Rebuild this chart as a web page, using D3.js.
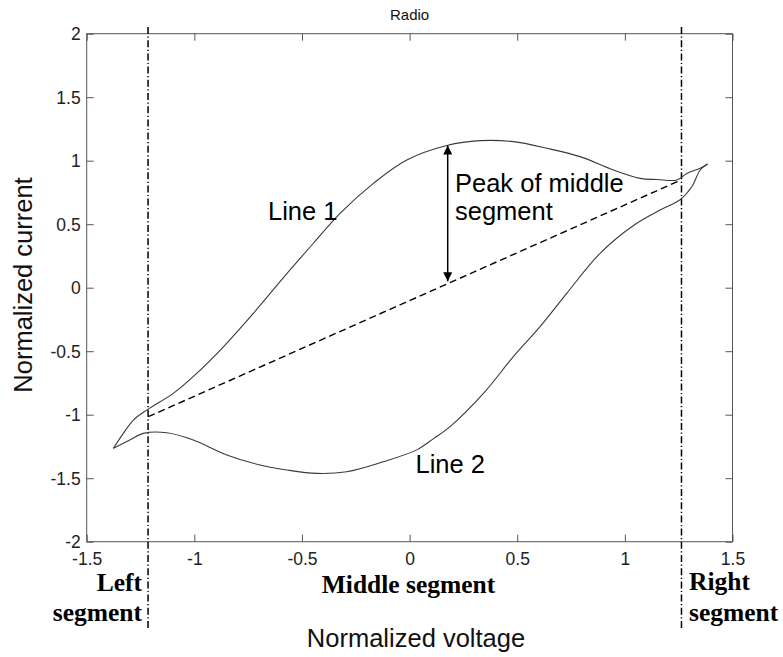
<!DOCTYPE html>
<html>
<head>
<meta charset="utf-8">
<script src="https://cdn.jsdelivr.net/npm/d3@7"></script>
<style>
  html, body { margin: 0; padding: 0; background: #fff; }
  svg { display: block; }
</style>
</head>
<body>
<svg id="chart" width="783" height="657"></svg>
<script>
// Upper branch (Line 1), traced from the left tip to the right tip
const line1Voltage = [-1.376, -1.33, -1.283, -1.218, -1.098, -0.989, -0.865, -0.726, -0.586, -0.447, -0.323, -0.168, -0.013, 0.173, 0.328, 0.482, 0.638, 0.792, 0.947, 1.071, 1.15, 1.242, 1.288, 1.35, 1.384];
const line1Current = [-1.265, -1.147, -1.042, -0.96, -0.832, -0.674, -0.465, -0.202, 0.08, 0.35, 0.586, 0.822, 1.006, 1.12, 1.158, 1.150, 1.098, 1.032, 0.927, 0.861, 0.852, 0.848, 0.90, 0.940, 0.974];

// Lower branch (Line 2), traced from the right tip back to the left tip
const line2Voltage = [1.384, 1.35, 1.311, 1.257, 1.164, 1.04, 0.885, 0.730, 0.606, 0.482, 0.343, 0.188, 0.11, 0.033, -0.122, -0.292, -0.431, -0.571, -0.695, -0.849, -1.005, -1.128, -1.237, -1.30, -1.376];
const line2Current = [0.974, 0.927, 0.795, 0.694, 0.612, 0.49, 0.271, -0.044, -0.307, -0.543, -0.832, -1.094, -1.19, -1.277, -1.370, -1.449, -1.462, -1.435, -1.396, -1.317, -1.199, -1.142, -1.147, -1.20, -1.265];

// Chord joining the two segment boundaries
const chordVoltage = [-1.214, 1.25];
const chordCurrent = [-1.016, 0.84];

// Segment boundaries (voltage)
const segmentBounds = [-1.215, 1.263];

// Peak-of-middle-segment arrow: voltage, top and bottom current
const peakVoltage = 0.177;
const peakTop = 1.12;
const peakBottom = 0.05;

const xTicks = [-1.5, -1, -0.5, 0, 0.5, 1, 1.5];
const yTicks = [-2, -1.5, -1, -0.5, 0, 0.5, 1, 1.5, 2];

const W = 783, H = 657;
const margin = { top: 33.7, right: 50.5, bottom: 115.3, left: 86.7 };
const pw = W - margin.left - margin.right;
const ph = H - margin.top - margin.bottom;

const svg = d3.select("#chart");
const sans = "'Liberation Sans', Arial, sans-serif";
const serif = "'Liberation Serif', 'Times New Roman', serif";

const x = d3.scaleLinear().domain([-1.5, 1.5]).range([0, pw]);
const y = d3.scaleLinear().domain([-2, 2]).range([ph, 0]);

const g = svg.append("g").attr("transform", `translate(${margin.left},${margin.top})`);

// Plain hyphen-minus tick labels
const fmt = d => String(d);

// Axes with inward ticks on all four sides
const tickLen = 7;
const axisColor = "#555";
function styleAxis(sel) {
  sel.select(".domain").remove();
  sel.selectAll(".tick line").attr("stroke", axisColor).attr("stroke-width", 1);
}

const axisB = g.append("g").attr("transform", `translate(0,${ph})`)
  .call(d3.axisBottom(x).tickValues(xTicks).tickSize(-tickLen).tickFormat(fmt));
styleAxis(axisB);
axisB.selectAll(".tick text")
  .attr("y", 10.5).attr("dy", "0.71em")
  .attr("font-family", sans).attr("font-size", 17.5).attr("fill", "#222");

const axisL = g.append("g")
  .call(d3.axisLeft(y).tickValues(yTicks).tickSize(-tickLen).tickFormat(fmt));
styleAxis(axisL);
axisL.selectAll(".tick text")
  .attr("x", -6).attr("dy", "0.34em")
  .attr("font-family", sans).attr("font-size", 17.5).attr("fill", "#222");

const axisT = g.append("g")
  .call(d3.axisTop(x).tickValues(xTicks).tickSize(-tickLen).tickFormat(""));
styleAxis(axisT);

const axisR = g.append("g").attr("transform", `translate(${pw},0)`)
  .call(d3.axisRight(y).tickValues(yTicks).tickSize(-tickLen).tickFormat(""));
styleAxis(axisR);

g.append("rect")
  .attr("x", 0).attr("y", 0).attr("width", pw).attr("height", ph)
  .attr("fill", "none").attr("stroke", axisColor).attr("stroke-width", 1);

// Segment boundary lines (dash-dot), running beyond the plot box
const boundTop = 27 - margin.top;
const boundBottom = 630 - margin.top;
g.selectAll("line.bound")
  .data(segmentBounds)
  .join("line")
  .attr("class", "bound")
  .attr("x1", d => x(d)).attr("x2", d => x(d))
  .attr("y1", boundTop).attr("y2", boundBottom)
  .attr("stroke", "#000").attr("stroke-width", 1.5)
  .attr("stroke-dasharray", "7,2.5,1.2,2.5");

// Dashed chord between the boundaries
g.append("line")
  .attr("x1", x(chordVoltage[0])).attr("y1", y(chordCurrent[0]))
  .attr("x2", x(chordVoltage[1])).attr("y2", y(chordCurrent[1]))
  .attr("stroke", "#000").attr("stroke-width", 1.4)
  .attr("stroke-dasharray", "7,4");

// Hysteresis branches
const lineGen = d3.line()
  .x(d => x(d[0])).y(d => y(d[1]))
  .curve(d3.curveCatmullRom.alpha(0.5));

const branch1 = line1Voltage.map((v, i) => [v, line1Current[i]]);
const branch2 = line2Voltage.map((v, i) => [v, line2Current[i]]);

[branch1, branch2].forEach(b => {
  g.append("path")
    .datum(b)
    .attr("d", lineGen)
    .attr("fill", "none")
    .attr("stroke", "#3a3a3a")
    .attr("stroke-width", 1.1)
    .attr("stroke-linejoin", "round");
});

// Double-headed arrow marking the peak of the middle segment
const defs = svg.append("defs");
defs.append("marker")
  .attr("id", "head")
  .attr("viewBox", "0 0 10 10")
  .attr("refX", 10).attr("refY", 5)
  .attr("markerWidth", 11).attr("markerHeight", 9)
  .attr("markerUnits", "userSpaceOnUse")
  .attr("orient", "auto-start-reverse")
  .append("path")
  .attr("d", "M0,0 L10,5 L0,10 Z")
  .attr("fill", "#000");

g.append("line")
  .attr("x1", x(peakVoltage)).attr("x2", x(peakVoltage))
  .attr("y1", y(peakTop)).attr("y2", y(peakBottom))
  .attr("stroke", "#000").attr("stroke-width", 1.5)
  .attr("marker-start", "url(#head)")
  .attr("marker-end", "url(#head)");

// Text
function text(xp, yp, str, opts = {}) {
  return svg.append("text")
    .attr("x", xp).attr("y", yp)
    .attr("font-family", opts.family || sans)
    .attr("font-size", opts.size || 25.5)
    .attr("font-weight", opts.weight || "normal")
    .attr("text-anchor", opts.anchor || "start")
    .attr("fill", opts.fill || "#000")
    .text(str);
}

text(margin.left + pw / 2, 20, "Radio", { size: 15, anchor: "middle", fill: "#111" });
text(268, 220, "Line 1");
text(415.5, 472.5, "Line 2");
text(455, 191.5, "Peak of middle");
text(455, 220, "segment");

text(416, 646.5, "Normalized voltage", { anchor: "middle", fill: "#111" });
svg.append("text")
  .attr("transform", "translate(32,285) rotate(-90)")
  .attr("font-family", sans).attr("font-size", 25.5)
  .attr("text-anchor", "middle").attr("fill", "#111")
  .text("Normalized current");

const bold = { family: serif, weight: "bold", size: 25.5 };
text(142, 590.5, "Left", { ...bold, anchor: "end" });
text(142, 621, "segment", { ...bold, anchor: "end" });
text(408.5, 593, "Middle segment", { ...bold, anchor: "middle" });
text(689, 590, "Right", bold);
text(689, 620.5, "segment", bold);
</script>
</body>
</html>
